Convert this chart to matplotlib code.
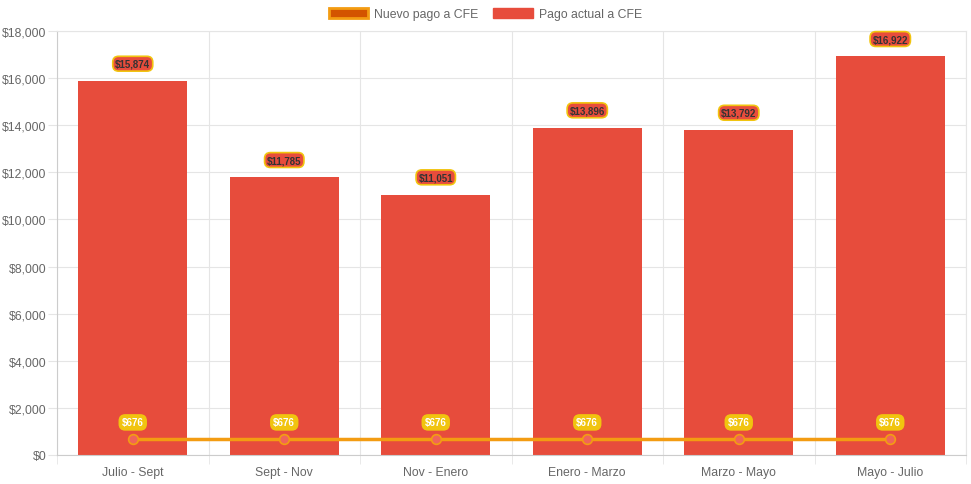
import numpy as np
import matplotlib.pyplot as plt
from matplotlib.patches import Patch
from matplotlib.ticker import FuncFormatter

plt.rcParams['font.family'] = ['Liberation Sans', 'DejaVu Sans']

periodos = ['Julio - Sept', 'Sept - Nov', 'Nov - Enero', 'Enero - Marzo', 'Marzo - Mayo', 'Mayo - Julio']
pago_actual = [15874, 11785, 11051, 13896, 13792, 16922]
pago_nuevo = [676, 676, 676, 676, 676, 676]

fig = plt.figure(figsize=(9.71, 4.85), dpi=100)
ax = fig.add_axes([57/971, 29/485, 909/971, 424/485])

x = np.arange(len(periodos))
ax.bar(x, pago_actual, width=0.72, color='#E74C3C', zorder=2)
ax.plot(x, pago_nuevo, color='#F39C12', lw=2.5, zorder=3,
        marker='o', ms=7, mfc='#F0645A', mec='#F39C12', mew=1.2)

for xi, v in zip(x, pago_actual):
    ax.annotate(f'${v:,}', (xi, v), xytext=(0, 12.5), textcoords='offset points',
                ha='center', va='center', fontsize=7, fontweight='bold', color='#333333',
                bbox=dict(boxstyle='round,pad=0.25,rounding_size=0.6', fc='#E74C3C', ec='#F1C40F', lw=1.2),
                zorder=5)
for xi, v in zip(x, pago_nuevo):
    ax.annotate(f'${v:,}', (xi, v), xytext=(0, 12), textcoords='offset points',
                ha='center', va='center', fontsize=7, fontweight='bold', color='white',
                bbox=dict(boxstyle='round,pad=0.25,rounding_size=0.6', fc='#F1C40F', ec='#F1C40F', lw=1.2),
                zorder=5)

ax.set_xlim(-0.5, len(periodos) - 0.5)
ax.set_ylim(0, 18000)
ax.set_yticks(np.arange(0, 18001, 2000))
ax.yaxis.set_major_formatter(FuncFormatter(lambda v, p: f'${v:,.0f}'))
ax.set_xticks(x)
ax.set_xticklabels(periodos)
ax.set_xticks(np.arange(-0.5, len(periodos), 1), minor=True)

ax.grid(axis='y', color='#e5e5e5', lw=0.8, zorder=0)
ax.grid(axis='x', which='minor', color='#e5e5e5', lw=0.8, zorder=0)
ax.tick_params(axis='y', length=6.5, color='#e5e5e5', labelcolor='#666666', labelsize=8.8, pad=1)
ax.tick_params(axis='x', which='major', length=0, labelcolor='#666666', labelsize=8.8, pad=8)
ax.tick_params(axis='x', which='minor', length=6.5, color='#e5e5e5')
for s in ['top', 'right']:
    ax.spines[s].set_color('#e5e5e5')
for s in ['left', 'bottom']:
    ax.spines[s].set_color('#cccccc')

handles = [Patch(fc='#D35400', ec='#F39C12', lw=2), Patch(fc='#E74C3C', ec='#E74C3C')]
fig.legend(handles, ['Nuevo pago a CFE', 'Pago actual a CFE'], loc='center', bbox_to_anchor=(0.5, 1 - 15/485),
           ncol=2, frameon=False, fontsize=8.8, labelcolor='#666666', handlelength=3.2, handleheight=0.9,
           columnspacing=1.2, handletextpad=0.5)

fig.savefig('out.png', dpi=100)
